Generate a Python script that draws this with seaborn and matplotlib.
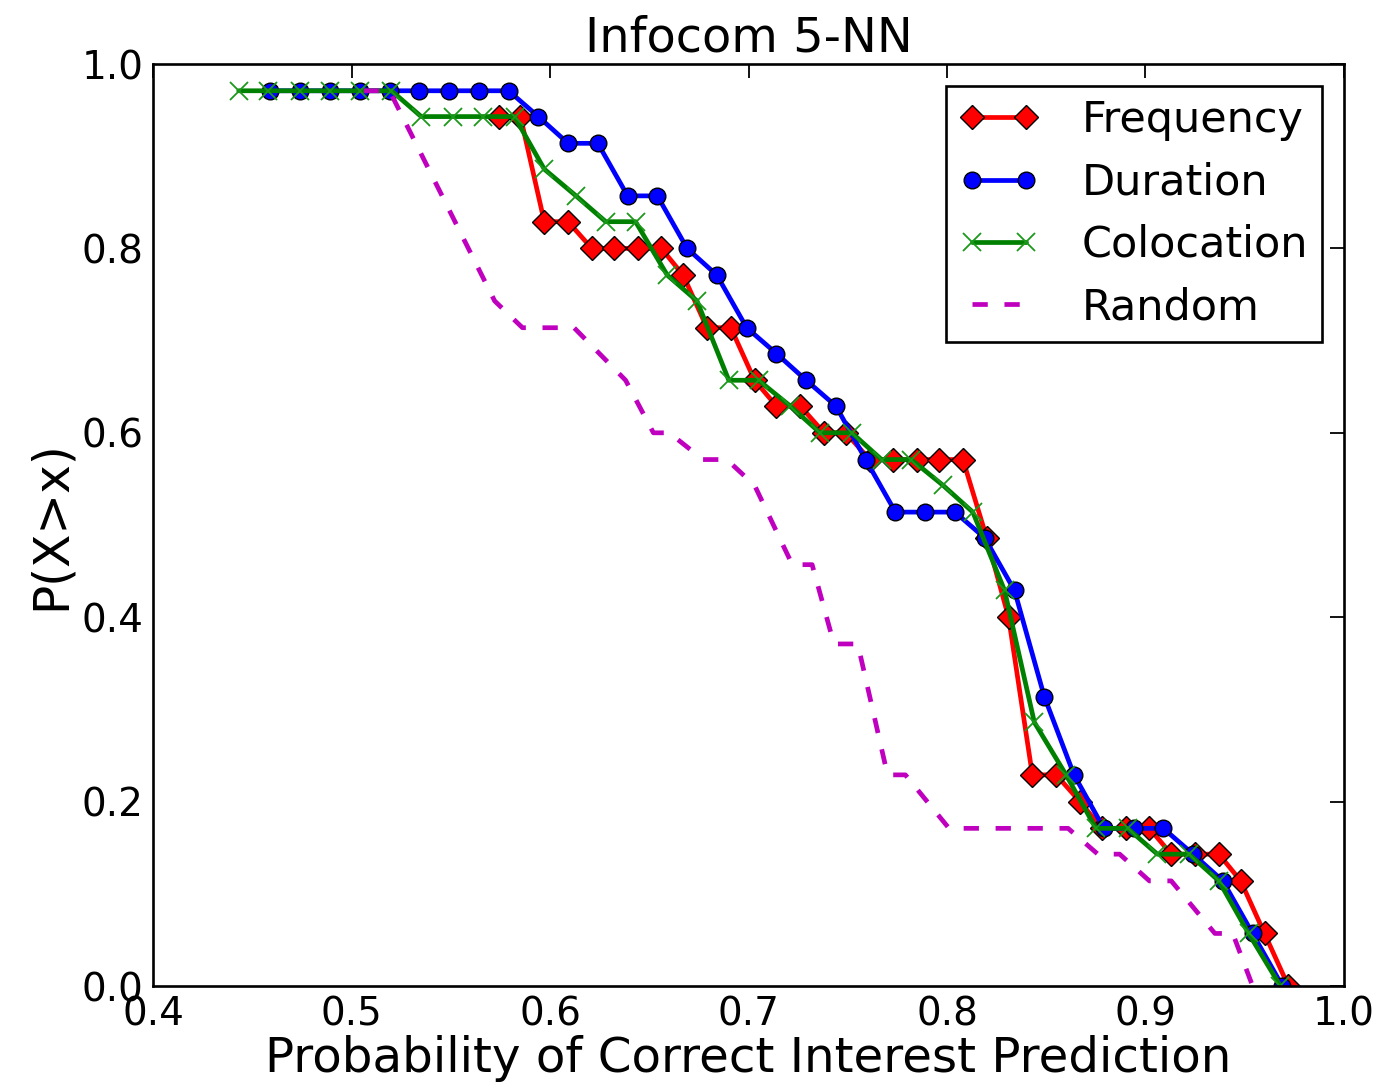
import matplotlib
matplotlib.use("Agg")
import matplotlib.pyplot as plt
import seaborn as sns

# ---------------- data ----------------
freq_x = [0.574, 0.585, 0.597, 0.609, 0.621, 0.632, 0.644, 0.656, 0.667, 0.679,
          0.691, 0.703, 0.714, 0.726, 0.738, 0.749, 0.761, 0.773, 0.785, 0.796,
          0.808, 0.820, 0.831, 0.843, 0.855, 0.867, 0.878, 0.890, 0.902, 0.913,
          0.925, 0.937, 0.948, 0.960, 0.972]
freq_y = [0.943, 0.943, 0.829, 0.829, 0.800, 0.800, 0.800, 0.800, 0.771, 0.714,
          0.714, 0.657, 0.629, 0.629, 0.600, 0.600, 0.571, 0.571, 0.571, 0.571,
          0.571, 0.486, 0.400, 0.229, 0.229, 0.200, 0.171, 0.171, 0.171, 0.143,
          0.143, 0.143, 0.114, 0.057, 0.000]

dur_x = [0.459, 0.474, 0.489, 0.504, 0.519, 0.534, 0.549, 0.564, 0.579, 0.594,
         0.609, 0.624, 0.639, 0.654, 0.669, 0.684, 0.699, 0.714, 0.729, 0.744,
         0.759, 0.774, 0.789, 0.804, 0.819, 0.834, 0.849, 0.864, 0.879, 0.894,
         0.909, 0.924, 0.939, 0.954, 0.969]
dur_y = [0.971, 0.971, 0.971, 0.971, 0.971, 0.971, 0.971, 0.971, 0.971, 0.943,
         0.914, 0.914, 0.857, 0.857, 0.800, 0.771, 0.714, 0.686, 0.657, 0.629,
         0.571, 0.514, 0.514, 0.514, 0.486, 0.429, 0.314, 0.229, 0.171, 0.171,
         0.171, 0.143, 0.114, 0.057, 0.000]

coloc_x = [0.443, 0.458, 0.474, 0.489, 0.504, 0.520, 0.535, 0.551, 0.566, 0.582,
           0.597, 0.613, 0.628, 0.643, 0.659, 0.674, 0.690, 0.705, 0.721, 0.736,
           0.752, 0.767, 0.782, 0.798, 0.813, 0.829, 0.844, 0.860, 0.875, 0.891,
           0.906, 0.922, 0.937, 0.952, 0.968]
coloc_y = [0.971, 0.971, 0.971, 0.971, 0.971, 0.971, 0.943, 0.943, 0.943, 0.943,
           0.886, 0.857, 0.829, 0.829, 0.771, 0.743, 0.657, 0.657, 0.629, 0.600,
           0.600, 0.571, 0.571, 0.543, 0.514, 0.429, 0.286, 0.229, 0.171, 0.171,
           0.143, 0.143, 0.114, 0.057, 0.000]

rand_x = [0.506, 0.519, 0.572, 0.586, 0.612, 0.638, 0.652, 0.660, 0.677, 0.689,
          0.703, 0.722, 0.732, 0.743, 0.755, 0.770, 0.779, 0.801, 0.861, 0.876,
          0.887, 0.902, 0.913, 0.935, 0.944, 0.954]
rand_y = [0.971, 0.971, 0.743, 0.714, 0.714, 0.657, 0.600, 0.600, 0.571, 0.571,
          0.543, 0.457, 0.457, 0.371, 0.371, 0.229, 0.229, 0.171, 0.171, 0.143,
          0.143, 0.114, 0.114, 0.057, 0.057, 0.000]

labels = ["Frequency", "Duration", "Colocation", "Random"]
xticks = [0.4, 0.5, 0.6, 0.7, 0.8, 0.9, 1.0]
yticks = [0.0, 0.2, 0.4, 0.6, 0.8, 1.0]
title = "Infocom 5-NN"
xlabel = "Probability of Correct Interest Prediction"
ylabel = "P(X>x)"

# ---------------- style ----------------
sns.set_style("white")
plt.rcParams['font.family'] = ['DejaVu Sans']
plt.rcParams['lines.scale_dashes'] = False
plt.rcParams['text.color'] = 'k'
plt.rcParams['axes.labelcolor'] = 'k'
plt.rcParams['xtick.color'] = 'k'
plt.rcParams['ytick.color'] = 'k'

fig = plt.figure(figsize=(13.87, 10.88), dpi=100)
ax = fig.add_axes([0.1106, 0.09375, 0.8583, 0.8474])

lw = 3.4
ms = 12
common = dict(ax=ax, sort=False, estimator=None, linewidth=lw)

sns.lineplot(x=freq_x, y=freq_y, color=(1, 0, 0), marker='D', markersize=ms,
             markerfacecolor=(1, 0, 0), markeredgecolor='k', markeredgewidth=1.0,
             label=labels[0], **common)
sns.lineplot(x=dur_x, y=dur_y, color=(0, 0, 1), marker='o', markersize=ms,
             markerfacecolor=(0, 0, 1), markeredgecolor='k', markeredgewidth=1.0,
             label=labels[1], **common)
sns.lineplot(x=coloc_x, y=coloc_y, color=(0, 0.5, 0), marker='x', markersize=13,
             markeredgecolor=(0.1, 0.6, 0.1), markeredgewidth=1.3,
             label=labels[2], **common)
sns.lineplot(x=rand_x, y=rand_y, color=(0.75, 0, 0.75), linestyle='--',
             label=labels[3], **common)
ax.lines[-1].set_dashes((11, 12))

ax.set_xlim(0.4, 1.0)
ax.set_ylim(0.0, 1.0)
ax.set_xticks(xticks)
ax.set_yticks(yticks)
ax.set_xticklabels([f"{t:.1f}" for t in xticks])
ax.set_yticklabels([f"{t:.1f}" for t in yticks])
ax.tick_params(direction='in', length=10, width=1.3, colors='k',
               top=True, right=True, labelsize=28, pad=7)
for sp in ax.spines.values():
    sp.set_color('k')
    sp.set_linewidth(1.9)
    sp.set_visible(True)

ax.set_title(title, fontsize=34.5, pad=9, color='k')
ax.set_xlabel(xlabel, fontsize=34.8, labelpad=1, color='k')
ax.set_ylabel(ylabel, fontsize=35, labelpad=5, color='k')

leg = ax.legend(loc='upper right', numpoints=2, fontsize=31, frameon=True,
                fancybox=False, edgecolor='k', framealpha=1, borderaxespad=0.5,
                handlelength=1.85, handletextpad=1.0, labelspacing=0.47,
                borderpad=0.32)
leg.get_frame().set_linewidth(1.9)
for t in leg.get_texts():
    t.set_color('k')

fig.savefig("out.png", dpi=100)
